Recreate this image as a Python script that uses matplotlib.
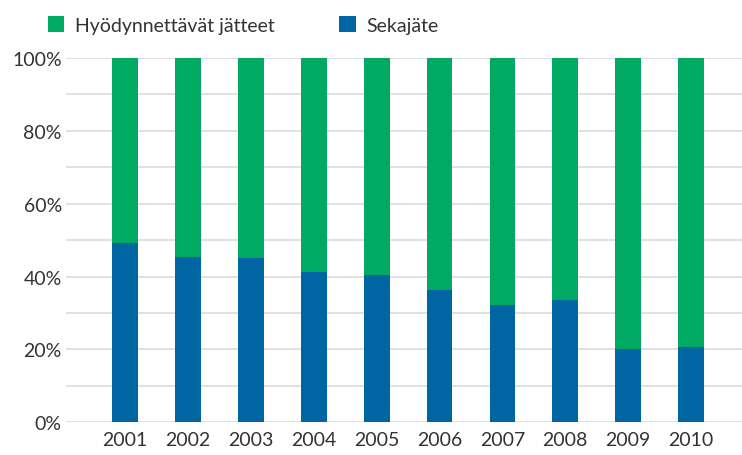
import matplotlib.pyplot as plt
import numpy as np

years = ['2001', '2002', '2003', '2004', '2005', '2006', '2007', '2008', '2009', '2010']
sekajate = [49.3, 45.5, 45.2, 41.3, 40.5, 36.2, 32.3, 33.5, 20.2, 20.7]
hyodynnettavat = [100 - v for v in sekajate]

green = '#00aa63'
blue = '#0066a3'
text_col = '#333333'

plt.rcParams['font.family'] = ['Lato', 'DejaVu Sans']

fig = plt.figure(figsize=(7.42, 4.56), dpi=100)
ax = fig.add_axes([0.089, 0.0717, 0.911, 0.799])

x = np.arange(len(years))
w = 0.41
ax.bar(x, sekajate, w, color=blue, label='Sekajäte', zorder=3)
ax.bar(x, hyodynnettavat, w, bottom=sekajate, color=green,
       label='Hyödynnettävät jätteet', zorder=3)

ax.set_xlim(-0.94, 9.81)
ax.set_ylim(0, 100)
ax.set_yticks(np.arange(0, 101, 20))
ax.set_yticklabels([f'{v}%' for v in range(0, 101, 20)])
ax.set_yticks(np.arange(0, 101, 10), minor=True)
ax.set_xticks(x)
ax.set_xticklabels(years)
ax.grid(axis='y', which='both', color='#dedede', linewidth=1.3, zorder=0)
ax.tick_params(axis='both', which='both', length=0, labelsize=14, colors=text_col)
ax.tick_params(axis='y', pad=3)
ax.tick_params(axis='x', pad=6)
for s in ax.spines.values():
    s.set_visible(False)

handles, labels = ax.get_legend_handles_labels()
leg = fig.legend(handles[::-1], labels[::-1], loc='center left',
                 bbox_to_anchor=(0.054, 0.943), ncol=2, frameon=False,
                 fontsize=14, handlelength=0.85, handleheight=0.85,
                 handletextpad=0.55, columnspacing=3.3, borderaxespad=0)
for t in leg.get_texts():
    t.set_color(text_col)

fig.savefig('out.png', dpi=100)
